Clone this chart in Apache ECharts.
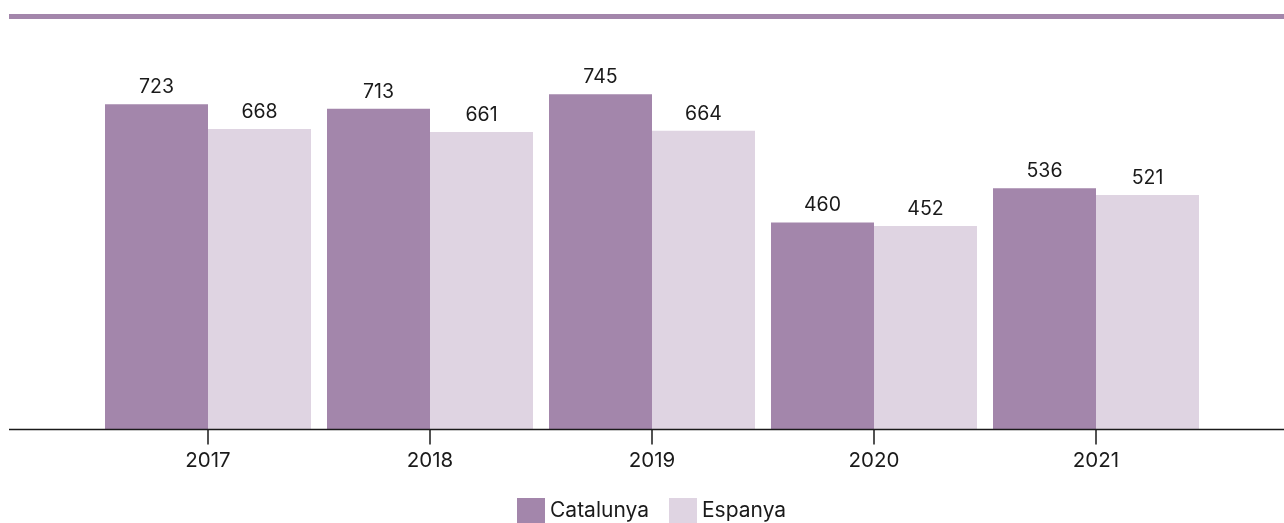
<!DOCTYPE html>
<html>
<head>
<meta charset="utf-8">
<script src="https://cdn.jsdelivr.net/npm/echarts@6/dist/echarts.min.js"></script>
<style>
  html, body { margin: 0; padding: 0; background: #fff; }
  #chart { width: 1284px; height: 523px; }
</style>
</head>
<body>
<div id="chart"></div>
<script>
// dades
var years = ['2017', '2018', '2019', '2020', '2021'];
var catalunya = [723, 713, 745, 460, 536];
var espanya = [668, 661, 664, 452, 521];

var chart = echarts.init(document.getElementById('chart'));
var font = 'Inter, Roboto, sans-serif';

var labelStyle = {
    show: true,
    position: 'top',
    distance: 7,
    color: '#1a1a1a',
    fontSize: 19.5,
    fontFamily: font
};

var option = {
    animation: false,
    textStyle: { fontFamily: font },
    graphic: [
        // linia superior
        { type: 'rect', left: 9, top: 14, shape: { width: 1275, height: 5 }, style: { fill: '#a386ab' } },
        // linia de l'eix
        { type: 'line', shape: { x1: 9, y1: 429.5, x2: 1284, y2: 429.5 }, style: { stroke: '#1a1a1a', lineWidth: 1.5 }, z: 10 }
    ],
    grid: {
        left: 97,
        right: 77,
        top: 69.5,
        bottom: 93.5
    },
    legend: {
        bottom: -6,
        left: 512,
        itemWidth: 28,
        itemHeight: 26,
        itemGap: 20,
        icon: 'rect',
        textStyle: { fontSize: 21, color: '#1a1a1a', fontFamily: font },
        data: ['Catalunya', 'Espanya']
    },
    xAxis: {
        type: 'category',
        data: years,
        axisLine: { show: false },
        axisTick: { show: true, alignWithLabel: true, length: 15, lineStyle: { color: '#1a1a1a', width: 1.5 } },
        axisLabel: { color: '#1a1a1a', fontSize: 20.5, margin: 21, fontFamily: font }
    },
    yAxis: {
        type: 'value',
        min: 0,
        max: 800,
        show: false,
        splitLine: { show: false }
    },
    series: [
        {
            name: 'Catalunya',
            type: 'bar',
            barWidth: 103,
            barGap: '0%',
            itemStyle: { color: '#a386ab' },
            label: labelStyle,
            data: catalunya
        },
        {
            name: 'Espanya',
            type: 'bar',
            barWidth: 103,
            barGap: '0%',
            itemStyle: { color: '#dfd4e2' },
            label: labelStyle,
            data: espanya
        }
    ]
};

chart.setOption(option);
</script>
</body>
</html>
